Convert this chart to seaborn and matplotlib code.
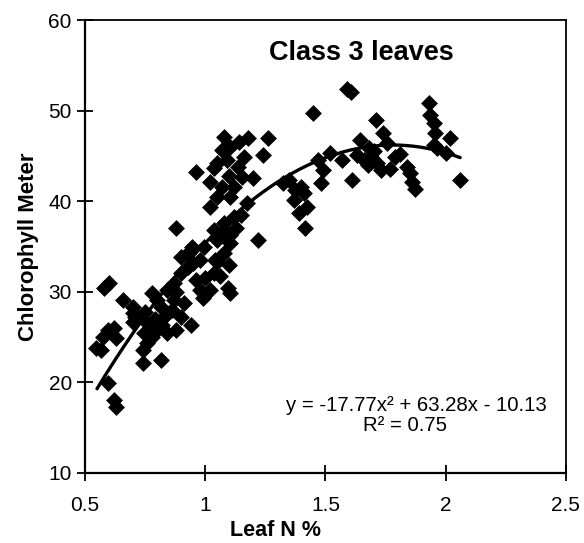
import numpy as np
import pandas as pd
import matplotlib
matplotlib.use("Agg")
import matplotlib.pyplot as plt
import seaborn as sns

# Leaf N % vs chlorophyll meter reading, class 3 leaves
leaf_n = [
    0.545, 0.566, 0.575, 0.595, 0.62, 0.63, 0.58, 0.60, 0.595, 0.62, 0.63,
    0.66, 0.70, 0.70, 0.71, 0.70, 0.74, 0.74, 0.815,
    0.75, 0.76, 0.745, 0.787, 0.78, 0.78, 0.80, 0.815, 0.83, 0.84, 0.877,
    0.90, 0.94, 0.84, 0.87, 0.87, 0.90, 0.93, 0.95, 0.98, 0.90, 0.93,
    0.96, 0.98, 0.91, 0.99, 0.79, 0.82, 0.86, 0.88, 0.80, 0.76,
    0.947, 0.994, 1.05, 1.09, 1.12, 1.175, 1.04, 1.035, 1.05, 1.077,
    1.093, 1.105, 1.035, 1.077, 1.105, 1.064, 1.105, 1.22, 0.88, 1.00,
    1.02, 1.06, 1.10, 1.13, 1.15,
    1.077, 1.18, 1.26, 1.105, 1.07, 1.24, 1.16, 0.96, 1.05, 1.035,
    1.135, 1.20, 1.155, 1.02, 1.07, 1.12, 1.105, 1.05, 1.02, 1.09, 1.10, 1.14,
    1.59, 1.605, 1.45, 1.71, 1.74, 1.93, 1.935, 1.95, 1.955, 2.02, 2.00,
    2.06, 1.61, 1.873, 1.86, 1.68, 1.645, 1.69, 1.715, 1.675, 1.77, 1.73,
    1.79, 1.84, 1.853, 1.755, 1.633, 1.52, 1.47, 1.49, 1.57, 1.35, 1.40,
    1.41, 1.425, 1.39, 1.417, 1.325, 1.375, 1.37, 1.965, 1.48, 1.70,
    1.66, 1.81, 1.95,
]
chl_meter = [
    23.8, 23.6, 25.0, 25.8, 26.0, 24.9, 30.4, 31.0, 19.9, 18.0, 17.3,
    29.1, 28.3, 27.7, 27.2, 26.7, 23.6, 22.1, 22.5,
    27.8, 26.6, 25.5, 26.1, 25.0, 29.9, 29.1, 28.3, 27.2, 25.5, 25.8,
    27.2, 26.3, 30.2, 31.0, 29.1, 32.1, 32.7, 33.2, 33.5, 33.8, 34.3,
    31.3, 30.2, 28.8, 29.3, 27.0, 26.3, 28.0, 30.0, 25.8, 24.3,
    35.0, 34.9, 35.7, 36.5, 38.3, 39.8, 33.5, 32.1, 33.3, 34.3,
    30.4, 29.9, 36.8, 37.6, 36.3, 36.3, 35.4, 35.7, 37.0, 31.5,
    30.2, 31.8, 33.0, 37.0, 38.5,
    47.1, 47.0, 47.0, 46.0, 45.7, 45.1, 44.9, 43.2, 44.2, 43.7,
    43.8, 42.6, 42.7, 42.1, 41.6, 41.6, 40.5, 40.5, 39.4, 44.5, 42.8, 46.5,
    52.4, 52.1, 49.7, 49.0, 47.5, 50.8, 49.5, 48.6, 47.5, 47.0, 45.3,
    42.3, 42.3, 41.4, 42.1, 45.9, 46.8, 44.9, 44.2, 44.0, 43.6, 43.4,
    44.9, 43.8, 43.1, 46.4, 45.1, 45.3, 44.5, 43.4, 44.5, 42.3, 41.6,
    40.9, 39.4, 38.7, 37.0, 42.0, 41.2, 40.1, 45.9, 42.0, 45.5,
    44.6, 45.2, 46.2,
]

# Quadratic trend line: y = a x^2 + b x + c
trend_coefs = [-17.77, 63.28, -10.13]
r_squared = 0.75

x_ticks = [0.5, 1.0, 1.5, 2.0, 2.5]
x_tick_labels = ["0.5", "1", "1.5", "2", "2.5"]
y_ticks = [10, 20, 30, 40, 50, 60]
y_tick_labels = ["10", "20", "30", "40", "50", "60"]

sns.set_style("white")
plt.rcParams["font.family"] = ["Liberation Sans", "DejaVu Sans"]
plt.rcParams["text.color"] = "black"
plt.rcParams["axes.labelcolor"] = "black"
plt.rcParams["xtick.bottom"] = True
plt.rcParams["ytick.left"] = True

df = pd.DataFrame({"Leaf N %": leaf_n, "Chlorophyll Meter": chl_meter})
xs = np.linspace(min(leaf_n) + 0.005, max(leaf_n), 200)
trend = pd.DataFrame({"x": xs, "y": np.polyval(trend_coefs, xs)})

fig = plt.figure(figsize=(5.84, 5.43), dpi=100)
ax = fig.add_axes([0.1455, 0.129, 0.8235, 0.834])

sns.scatterplot(data=df, x="Leaf N %", y="Chlorophyll Meter", marker="D",
                s=74, color="black", edgecolor="black", linewidth=0, ax=ax,
                zorder=3)
sns.lineplot(data=trend, x="x", y="y", color="black", linewidth=2.4, ax=ax,
             zorder=4)

ax.set_xlim(0.5, 2.5)
ax.set_ylim(10, 60)
ax.set_xticks(x_ticks)
ax.set_xticklabels(x_tick_labels)
ax.set_yticks(y_ticks)
ax.set_yticklabels(y_tick_labels)
ax.tick_params(axis="both", which="major", bottom=True, left=True,
               direction="inout", length=11, width=1.3,
               labelsize=15, color="black", labelcolor="black")
ax.tick_params(axis="x", pad=11)
ax.tick_params(axis="y", pad=4)

for side, sp in ax.spines.items():
    sp.set_visible(True)
    sp.set_color("black")
    sp.set_linewidth(1.6 if side in ("left", "bottom") else 1.3)

ax.set_xlabel("Leaf N %", fontsize=15.5, fontweight="bold", va="center")
ax.xaxis.set_label_coords(0.397, -0.126)
ax.set_ylabel("Chlorophyll Meter", fontsize=16, fontweight="bold",
              labelpad=7)

ax.text(1.65, 56.4, "Class 3 leaves", fontsize=19.5, fontweight="bold",
        ha="center", va="center")
a, b, c = trend_coefs
ax.text(1.877, 17.5, f"y = {a:.2f}x² + {b:.2f}x - {abs(c):.2f}",
        fontsize=14.7, ha="center", va="center")
ax.text(1.832, 15.2, f"R² = {r_squared:.2f}", fontsize=14.7,
        ha="center", va="center")

fig.savefig("out.png", dpi=100, facecolor="white")
